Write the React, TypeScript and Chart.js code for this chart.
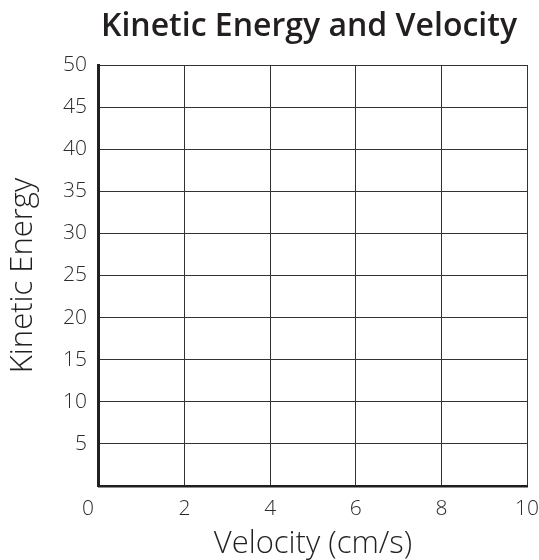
import React, { useEffect, useRef } from 'react';
import { Chart, registerables } from 'chart.js';

Chart.register(...registerables);

// empty grid: no series, only axes
const xTicks = [0, 2, 4, 6, 8, 10];
const yTicks = [0, 5, 10, 15, 20, 25, 30, 35, 40, 45, 50];
const titleText = 'Kinetic Energy and Velocity';
const xTitle = 'Velocity (cm/s)';
const yTitle = 'Kinetic Energy';

const FONT = '"Open Sans", "DejaVu Sans", sans-serif';
const INK = '#231f20';

// title centred over the plot area rather than the whole canvas
const plotTitle = {
  id: 'plotTitle',
  afterDraw(chart: Chart) {
    const { ctx, chartArea } = chart;
    ctx.save();
    ctx.fillStyle = INK;
    ctx.font = `600 32px ${FONT}`;
    ctx.textAlign = 'center';
    ctx.textBaseline = 'alphabetic';
    ctx.fillText(titleText, (chartArea.left + chartArea.right) / 2 - 4, 36);
    ctx.restore();
  },
};

const App: React.FC = () => {
  const canvasRef = useRef<HTMLCanvasElement>(null);

  useEffect(() => {
    if (!canvasRef.current) return;
    const chart = new Chart(canvasRef.current, {
      type: 'scatter',
      data: { datasets: [{ data: [], showLine: false }] },
      plugins: [plotTitle],
      options: {
        animation: false,
        responsive: false,
        layout: { padding: { top: 65, right: 0, left: 4, bottom: 0 } },
        plugins: {
          legend: { display: false },
          tooltip: { enabled: false },
          title: { display: false },
        },
        scales: {
          x: {
            type: 'linear',
            min: xTicks[0],
            max: xTicks[xTicks.length - 1],
            afterBuildTicks: (axis) => {
              axis.ticks = xTicks.map((v) => ({ value: v }));
            },
            ticks: {
              color: '#2b2b2b',
              padding: 0,
              font: { family: FONT, size: 21, weight: 300, lineHeight: 1 },
              callback: (v) => (v === 0 ? '0\u00a0\u00a0\u00a0\u00a0' : String(v)),
            },
            // invisible tick marks push the labels down without widening the side padding
            grid: { color: '#333', lineWidth: 1, drawTicks: true, tickLength: 13, tickColor: 'rgba(0,0,0,0)' },
            border: { display: true, color: INK, width: 2.5 },
            title: {
              display: true,
              text: xTitle,
              color: INK,
              font: { family: FONT, size: 31, weight: 300, lineHeight: 1 },
              padding: { top: 9, bottom: 0 },
            },
          },
          y: {
            type: 'linear',
            min: yTicks[0],
            max: yTicks[yTicks.length - 1],
            afterBuildTicks: (axis) => {
              axis.ticks = yTicks.map((v) => ({ value: v }));
            },
            ticks: {
              color: '#2b2b2b',
              padding: 12,
              font: { family: FONT, size: 21, weight: 300 },
              callback: (v) => (v === 0 ? '' : String(v)),
            },
            grid: { color: '#333', lineWidth: 1, drawTicks: false },
            border: { display: true, color: INK, width: 3 },
            title: {
              display: true,
              text: yTitle,
              color: INK,
              font: { family: FONT, size: 31, weight: 300, lineHeight: 1 },
              padding: { top: 4, bottom: 12 },
            },
          },
        },
      },
    });
    return () => chart.destroy();
  }, []);

  return (
    <div style={{ position: 'fixed', left: 0, top: 0, width: 539, height: 560, background: '#fff' }}>
      <canvas ref={canvasRef} width={539} height={560} style={{ width: 539, height: 560 }} />
    </div>
  );
};

export default App;
